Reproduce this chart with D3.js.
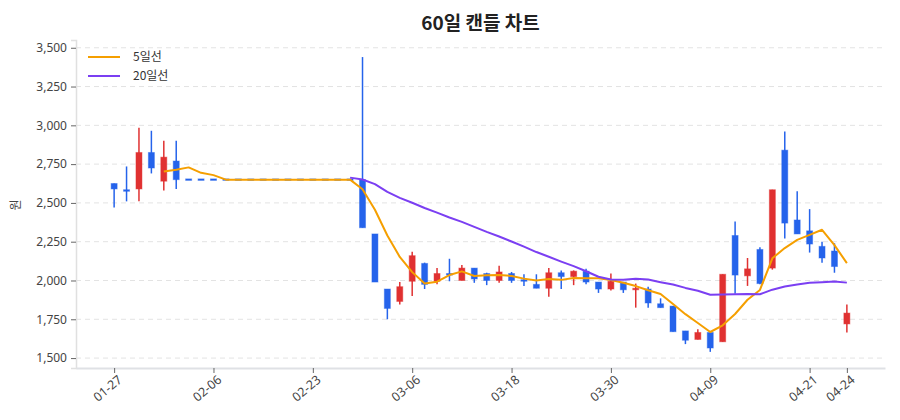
<!DOCTYPE html>
<html><head><meta charset="utf-8">
<script src="https://cdn.jsdelivr.net/npm/d3@7/dist/d3.min.js"></script>
<style>
body{margin:0;background:#fff;}
svg{font-family:"Noto Sans CJK KR","Noto Sans",sans-serif;}
</style></head>
<body><svg id="c" width="900" height="420"></svg>
<script>
const dates = ["01-27","01-28","01-29","01-30","02-02","02-03","02-04","02-05","02-06","02-09",
"02-10","02-11","02-12","02-13","02-19","02-20","02-23","02-24","02-25","02-26",
"02-27","03-03","03-04","03-05","03-06","03-09","03-10","03-11","03-12","03-13",
"03-16","03-17","03-18","03-19","03-20","03-23","03-24","03-25","03-26","03-27",
"03-30","03-31","04-01","04-02","04-03","04-06","04-07","04-08","04-09","04-10",
"04-13","04-14","04-15","04-16","04-17","04-20","04-21","04-22","04-23","04-24"];
const opens  = [2625,2585,2590,2825,2640,2770,2650,2650,2650,2650,2650,2650,2650,2650,2650,2650,2650,2650,2650,2650,
2650,2300,1945,1865,1995,2110,1995,2045,2000,2080,2045,2000,2045,2005,1975,1950,2050,2025,2060,1990,
1945,1990,1940,1945,1850,1835,1675,1620,1665,1605,2290,2030,2200,2080,2840,2390,2320,2220,2190,1720];
const highs  = [2625,2735,2985,2965,2900,2900,2650,2650,2650,2650,2650,2650,2650,2650,2650,2650,2650,2650,2650,2650,
3440,2300,1945,1990,2185,2115,2080,2140,2100,2080,2050,2095,2055,2040,2040,2080,2065,2065,2075,1990,
2045,1990,1980,1960,1885,1835,1675,1685,1665,2040,2380,2145,2215,2585,2960,2575,2460,2250,2240,1845];
const lows   = [2470,2510,2510,2690,2580,2590,2650,2650,2650,2650,2650,2650,2650,2650,2650,2650,2650,2650,2650,2650,
2340,1990,1750,1845,1900,1945,1975,1995,2000,1985,1970,1985,1985,1965,1950,1895,1945,1970,1975,1920,
1935,1920,1825,1825,1825,1670,1590,1620,1540,1605,1915,1965,1975,2070,2270,2300,2180,2115,2050,1665];
const closes = [2590,2575,2825,2725,2795,2650,2650,2650,2650,2650,2650,2650,2650,2650,2650,2650,2650,2650,2650,2650,
2340,1990,1820,1960,2160,1975,2045,2035,2080,2010,2000,2055,2000,1995,1950,2050,2025,2060,1990,1945,
1995,1940,1950,1855,1825,1670,1615,1665,1565,2040,2035,2075,1980,2585,2370,2300,2235,2145,2090,1790];
const tickLabels = ["01-27","02-06","02-23","03-06","03-18","03-30","04-09","04-21","04-24"];
const yTicks = [1500,1750,2000,2250,2500,2750,3000,3250,3500];
const seriesNames = ["5일선","20일선"];
const maPeriods = [5,20];

const UP="#e03131", DOWN="#2563eb";
const maColors=["#f59f00","#7b3ff2"];
const L=76,R=885,T=40,B=368;
const svg=d3.select("#c");
const x=d3.scalePoint().domain(dates).range([L,R]).padding(3.07);
const y=d3.scaleLinear().domain([1436,3550]).range([B,T]);

// title
svg.append("text").attr("x",(L+R)/2).attr("y",30).attr("text-anchor","middle")
 .attr("font-size",19).attr("font-weight","bold").attr("fill","#222").text("60일 캔들 차트");

// grid
svg.append("g").selectAll("line").data(yTicks).join("line")
 .attr("x1",L).attr("x2",R).attr("y1",d=>y(d)).attr("y2",d=>y(d))
 .attr("stroke","#e3e3e3").attr("stroke-dasharray","5,4").attr("stroke-width",1);

// y axis
const ya=svg.append("g").attr("transform",`translate(${L},0)`)
 .call(d3.axisLeft(y).tickValues(yTicks).tickFormat(d3.format(",")).tickSize(5).tickPadding(4));
ya.select(".domain").attr("stroke","#e0e0e0").attr("stroke-width",1.5);
ya.selectAll(".tick line").attr("stroke","#666");
ya.selectAll("text").attr("font-size",12).attr("fill","#444").attr("font-family","\"Noto Sans\",sans-serif");
svg.append("text").attr("transform","translate(20,205) rotate(-90)").attr("text-anchor","middle")
 .attr("font-size",12).attr("fill","#444").text("원");

// x axis
const xa=svg.append("g").attr("transform",`translate(0,${B})`)
 .call(d3.axisBottom(x).tickValues(tickLabels).tickSize(5).tickSizeOuter(0));
xa.select(".domain").attr("stroke","#dfe1e5").attr("stroke-width",2);
xa.selectAll(".tick line").attr("stroke","#666");
xa.selectAll("text").attr("font-size",12.5).attr("fill","#444").attr("font-family","\"Noto Sans\",sans-serif")
 .attr("text-anchor","end").attr("x",-2).attr("y",8).attr("dx",0).attr("dy","0.6em")
 .attr("transform","rotate(-40)");

// candles
const data=dates.map((d,i)=>({d,o:opens[i],h:highs[i],l:lows[i],c:closes[i]}));
const g=svg.append("g");
const bw=6;
data.forEach(p=>{
  const col=p.c>p.o?UP:DOWN;
  const cx=x(p.d);
  g.append("line").attr("x1",cx).attr("x2",cx).attr("y1",y(p.h)).attr("y2",y(p.l))
   .attr("stroke",col).attr("stroke-width",1.5);
  const top=y(Math.max(p.o,p.c)), bot=y(Math.min(p.o,p.c));
  const hgt=Math.max(bot-top,1.5);
  g.append("rect").attr("x",cx-bw/2).attr("y",top-(hgt-(bot-top))/2).attr("width",bw).attr("height",hgt)
   .attr("fill",col).attr("stroke",col).attr("stroke-opacity",0.45).attr("stroke-width",1);
});

// moving averages
maPeriods.forEach((n,k)=>{
  const pts=[];
  for(let i=n-1;i<closes.length;i++){
    pts.push([dates[i],d3.mean(closes.slice(i-n+1,i+1))]);
  }
  svg.append("path").datum(pts).attr("fill","none").attr("stroke",maColors[k]).attr("stroke-width",2)
   .attr("stroke-linejoin","round")
   .attr("d",d3.line().x(p=>x(p[0])).y(p=>y(p[1])));
});

// legend
const lg=svg.append("g");
seriesNames.forEach((s,k)=>{
  const yy=57+k*19;
  lg.append("line").attr("x1",88).attr("x2",120).attr("y1",yy).attr("y2",yy)
   .attr("stroke",maColors[k]).attr("stroke-width",2);
  lg.append("text").attr("x",133).attr("y",yy+4).attr("font-size",12).attr("fill","#333").text(s);
});
</script></body></html>
